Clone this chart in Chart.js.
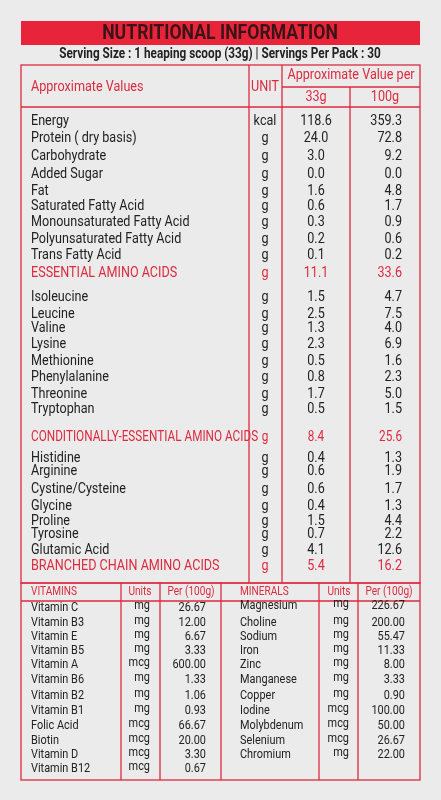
<!DOCTYPE html>
<html><head><meta charset="utf-8">
<script src="https://cdn.jsdelivr.net/npm/chart.js@4"></script>
<style>html,body{margin:0;padding:0;background:#ebebeb}canvas{display:block}</style>
</head><body><canvas id="c" width="441" height="800"></canvas>
<script>
const nutrients=["Energy","Protein ( dry basis)","Carbohydrate","Added Sugar","Fat","Saturated Fatty Acid","Monounsaturated Fatty Acid","Polyunsaturated Fatty Acid","Trans Fatty Acid","ESSENTIAL AMINO ACIDS","Isoleucine","Leucine","Valine","Lysine","Methionine","Phenylalanine","Threonine","Tryptophan","CONDITIONALLY-ESSENTIAL AMINO ACIDS","Histidine","Arginine","Cystine/Cysteine","Glycine","Proline","Tyrosine","Glutamic Acid","BRANCHED CHAIN AMINO ACIDS"];
const units=["kcal","g","g","g","g","g","g","g","g","g","g","g","g","g","g","g","g","g","g","g","g","g","g","g","g","g","g"];
const per33=["118.6","24.0","3.0","0.0","1.6","0.6","0.3","0.2","0.1","11.1","1.5","2.5","1.3","2.3","0.5","0.8","1.7","0.5","8.4","0.4","0.6","0.6","0.4","1.5","0.7","4.1","5.4"];
const per100=["359.3","72.8","9.2","0.0","4.8","1.7","0.9","0.6","0.2","33.6","4.7","7.5","4.0","6.9","1.6","2.3","5.0","1.5","25.6","1.3","1.9","1.7","1.3","4.4","2.2","12.6","16.2"];
const highlighted=[9,18,26];
const vitamins=["Vitamin C","Vitamin B3","Vitamin E","Vitamin B5","Vitamin A","Vitamin B6","Vitamin B2","Vitamin B1","Folic Acid","Biotin","Vitamin D","Vitamin B12"];
const vitUnits=["mg","mg","mg","mg","mcg","mg","mg","mg","mcg","mcg","mcg","mcg"];
const vitValues=["26.67","12.00","6.67","3.33","600.00","1.33","1.06","0.93","66.67","20.00","3.30","0.67"];
const minerals=["Magnesium","Choline","Sodium","Iron","Zinc","Manganese","Copper","Iodine","Molybdenum","Selenium","Chromium"];
const minUnits=["mg","mg","mg","mg","mg","mg","mg","mcg","mcg","mcg","mg"];
const minValues=["226.67","200.00","55.47","11.33","8.00","3.33","0.90","100.00","50.00","26.67","22.00"];

// layout (pixel-space of the linear scales)
const rowY=[121,138,156,174,191,206,222,239,255,273,297,314,328,344,361,377,394,409,437,458,471,489,506,521,534,550,566];
const vitY=[608,623,637,651,665,680,696,711,726,741,755,769];
const minY=[606,623,637,651,665,680,696,711,726,741,755];
const RED='#dd2a3f', TXT='#222', FONT='"Roboto",sans-serif';

const tablePlugin={id:'table',afterDraw(ch){
  const c=ch.ctx,X=v=>ch.scales.x.getPixelForValue(v),Y=v=>ch.scales.y.getPixelForValue(v);
  const SX=0.84;
  const T=(s,x,y,al)=>{c.save();c.translate(X(x),Y(y));c.scale(SX,1);c.textAlign=al;c.fillText(s,0,0);c.restore();};
  c.save();
  c.fillStyle='#ebebeb';c.fillRect(0,0,441,800);
  c.fillStyle='#e8243a';c.fillRect(X(21),Y(21),X(420)-X(21),Y(45)-Y(21));
  c.textBaseline='middle';
  c.fillStyle='#3a1416';c.font='bold 21px '+FONT;
  T('NUTRITIONAL INFORMATION',220,34,'center');
  c.fillStyle=TXT;c.font='bold 14px '+FONT;
  T('Serving Size : 1 heaping scoop (33g) | Servings Per Pack : 30',220,54,'center');
  c.strokeStyle=RED;c.lineWidth=1.3;
  const L=(x1,y1,x2,y2)=>{c.beginPath();c.moveTo(X(x1),Y(y1));c.lineTo(X(x2),Y(y2));c.stroke();};
  c.strokeRect(X(21),Y(65),X(420)-X(21),Y(583)-Y(65));
  L(21,107,420,107);L(282,87,420,87);
  L(249,65,249,583);L(282,65,282,583);L(350,87,350,583);
  c.strokeRect(X(21),Y(583),X(420)-X(21),Y(780)-Y(583));
  L(21,601,420,601);
  [121,160,221,319,358].forEach(x=>L(x,583,x,780));
  c.fillStyle=RED;c.font='15px '+FONT;
  T('Approximate Values',31,87,'left');
  T('UNIT',265,87,'center');
  T('Approximate Value per',351,75,'center');
  T('33g',316,97,'center');T('100g',385,97,'center');
  nutrients.forEach((n,i)=>{
    const h=highlighted.includes(i);
    c.fillStyle=h?RED:TXT;
    c.font=(i===18?'14px ':'15px ')+FONT;
    T(n,31,rowY[i],'left');
    T(units[i],265,rowY[i],'center');
    T(per33[i],316,rowY[i],'center');
    T(per100[i],402,rowY[i],'right');
  });
  c.fillStyle=RED;c.font='12px '+FONT;
  T('VITAMINS',31,592,'left');T('MINERALS',240,592,'left');
  T('Units',140,592,'center');T('Per (100g)',191,592,'center');
  T('Units',339,592,'center');T('Per (100g)',389,592,'center');
  c.fillStyle=TXT;c.font='13px '+FONT;
  vitamins.forEach((v,i)=>{T(v,31,vitY[i],'left');
    T(vitUnits[i],150,vitY[i]-2,'right');T(vitValues[i],206,vitY[i],'right');});
  minerals.forEach((v,i)=>{T(v,240,minY[i],'left');
    T(minUnits[i],349,minY[i]-2,'right');T(minValues[i],405,minY[i],'right');});
  c.restore();
}};
new Chart(document.getElementById('c'),{type:'scatter',
  data:{datasets:[{data:rowY.map(y=>({x:0,y})),pointRadius:0}]},
  options:{responsive:false,animation:false,events:[],layout:{padding:0},
    plugins:{legend:{display:false},tooltip:{enabled:false}},
    scales:{x:{type:'linear',min:0,max:441,display:false},y:{type:'linear',min:0,max:800,reverse:true,display:false}}},
  plugins:[tablePlugin]});
</script></body></html>
